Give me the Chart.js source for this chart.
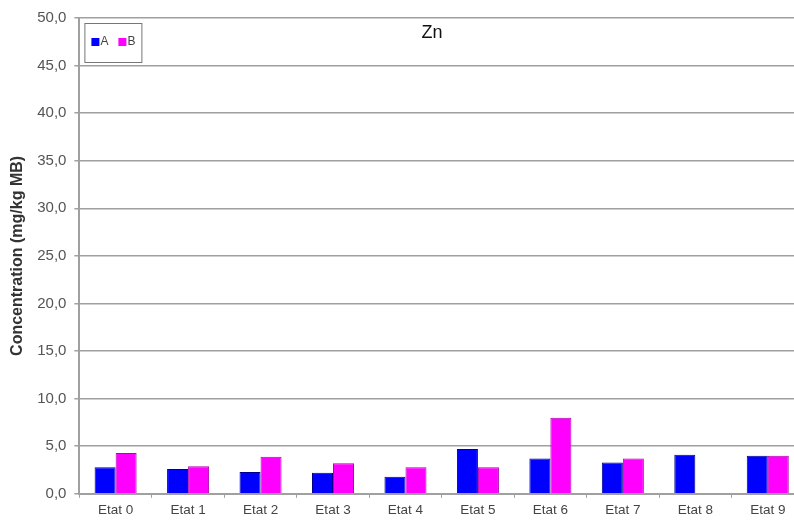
<!DOCTYPE html>
<html>
<head>
<meta charset="utf-8">
<script src="https://cdn.jsdelivr.net/npm/chart.js@4/dist/chart.umd.min.js"></script>
<style>
  html, body { margin: 0; padding: 0; background: #fff; overflow: hidden; }
  #wrap { width: 804px; height: 522px; }
</style>
</head>
<body>
<div id="wrap"><canvas id="grafico"></canvas></div>
<script>
const categorias = ['Etat 0', 'Etat 1', 'Etat 2', 'Etat 3', 'Etat 4', 'Etat 5', 'Etat 6', 'Etat 7', 'Etat 8', 'Etat 9'];
const valoresA = [2.8, 2.6, 2.3, 2.2, 1.8, 4.7, 3.7, 3.3, 4.1, 4.0];
const valoresB = [4.3, 2.9, 3.9, 3.2, 2.8, 2.8, 8.0, 3.7, null, 4.0];
const titulo = 'Zn';
const tituloEixoY = 'Concentration (mg/kg MB)';

const fonte = '"Liberation Sans", Arial, sans-serif';

// titulo e legenda desenhados dentro da area do grafico
const extras = {
    id: 'extras',
    afterDraw(chart) {
        const ctx = chart.ctx;
        const area = chart.chartArea;
        ctx.save();
        ctx.fillStyle = '#111';
        ctx.font = '18px ' + fonte;
        ctx.textAlign = 'center';
        ctx.textBaseline = 'middle';
        ctx.fillText(titulo, 432, 33);

        // caixa da legenda
        const x0 = area.left + 5, y0 = 23;
        ctx.strokeStyle = '#777';
        ctx.lineWidth = 1;
        ctx.strokeRect(x0 + 0.5, y0 + 0.5, 57, 39);
        ctx.font = '12px ' + fonte;
        ctx.textAlign = 'left';
        let x = x0 + 7;
        chart.data.datasets.forEach(ds => {
            ctx.fillStyle = ds.backgroundColor;
            ctx.fillRect(x, y0 + 15, 8, 8);
            ctx.fillStyle = '#444';
            ctx.fillText(ds.label, x + 9, y0 + 19);
            x += 27;
        });
        ctx.restore();
    }
};

new Chart(document.getElementById('grafico'), {
    type: 'bar',
    data: {
        labels: categorias,
        datasets: [
            { label: 'A', data: valoresA, backgroundColor: '#0000ff', borderColor: '#00008a', borderWidth: 1 },
            { label: 'B', data: valoresB, backgroundColor: '#ff00ff', borderColor: '#b000b0', borderWidth: 1 }
        ]
    },
    options: {
        responsive: true,
        maintainAspectRatio: false,
        animation: false,
        layout: { padding: { top: 18, right: 0, bottom: 0, left: 8 } },
        datasets: { bar: { barPercentage: 1.0, categoryPercentage: 0.58 } },
        plugins: {
            legend: { display: false },
            tooltip: { enabled: false }
        },
        scales: {
            y: {
                min: 0,
                max: 50,
                ticks: {
                    stepSize: 5,
                    color: '#555',
                    font: { family: fonte, size: 15 },
                    padding: 8,
                    callback: v => v.toFixed(1).replace('.', ',')
                },
                grid: { color: '#a0a0a0', lineWidth: 1.5, tickLength: 5, tickColor: '#a0a0a0' },
                border: { color: '#a0a0a0', width: 2 },
                title: {
                    display: true,
                    text: tituloEixoY,
                    color: '#333',
                    font: { family: fonte, size: 16, weight: 'bold' },
                    padding: { top: 0, bottom: 2 }
                }
            },
            x: {
                ticks: { color: '#444', font: { family: fonte, size: 13.5 }, padding: 4 },
                grid: { drawOnChartArea: false, tickLength: 4, color: '#a0a0a0' },
                border: { color: '#a0a0a0', width: 2 }
            }
        }
    },
    plugins: [extras]
});
</script>
</body>
</html>
